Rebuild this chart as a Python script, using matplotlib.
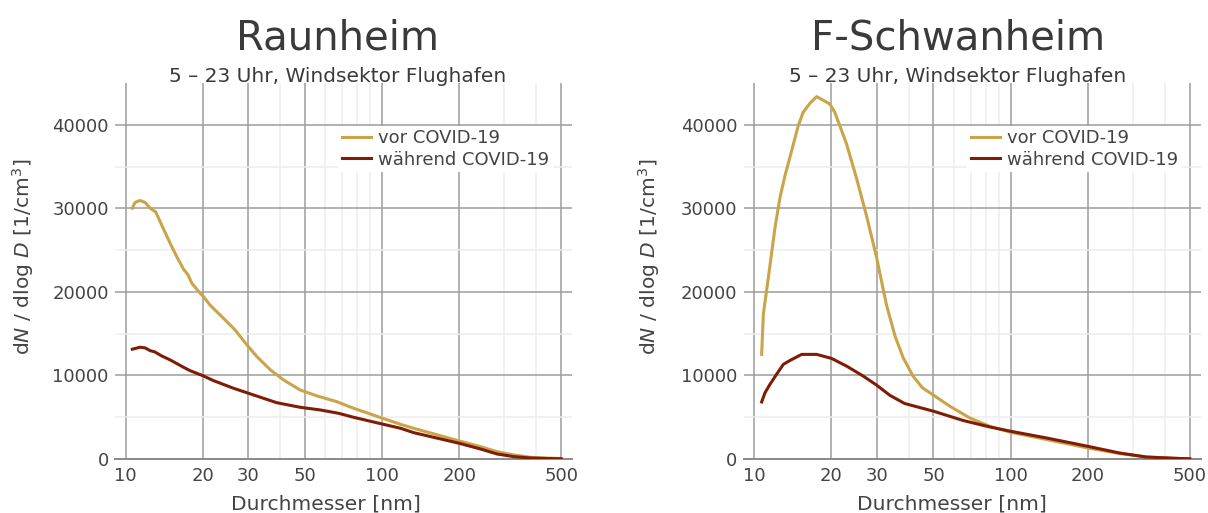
"""Partikelgrößenverteilung vor / während COVID-19, Raunheim und F-Schwanheim."""
import matplotlib
matplotlib.use("Agg")
import matplotlib.pyplot as plt
from matplotlib.ticker import NullFormatter

# --- Raunheim --------------------------------------------------------------
rau_vor_d = [10.61, 10.87, 11.37, 11.9, 12.45, 13.1, 13.8, 14.9, 15.8, 16.8,
             17.5, 18.1, 19.5, 20.1, 21.3, 24.8, 26.7, 29.7, 32.5, 36.7,
             41.3, 47.9, 55.7, 66.6, 77.5, 100, 118, 133, 200, 242,
             281, 327, 380, 440, 500]
rau_vor_n = [30020, 30700, 30940, 30700, 30020, 29550, 28020, 25830, 24230, 22720,
             22040, 21040, 19850, 19440, 18440, 16440, 15450, 13650, 12250, 10660,
             9460, 8260, 7550, 6860, 6070, 4900, 4150, 3670, 2160, 1480,
             880, 480, 200, 110, 60]
rau_waehr_d = [10.61, 11.37, 11.9, 12.45, 13.0, 13.8, 14.9, 16.8, 17.8, 20.1,
               22.0, 26.3, 30.1, 38.8, 47.9, 57.4, 67.7, 77.5, 100, 118,
               133, 200, 242, 281, 327, 380, 440, 500]
rau_waehr_n = [13140, 13380, 13300, 12970, 12810, 12340, 11860, 10980, 10580, 9940,
               9380, 8470, 7870, 6740, 6190, 5870, 5470, 4990, 4190, 3680,
               3150, 1880, 1200, 600, 280, 120, 60, 30]

# --- F-Schwanheim ----------------------------------------------------------
sch_vor_d = [10.68, 10.84, 11.34, 12.04, 12.59, 13.17, 13.98, 14.84, 15.5, 16.48,
             17.5, 19.7, 20.6, 22.9, 25.0, 27.4, 30.0, 32.8, 35.4, 38.1,
             41.6, 45.3, 50, 57.9, 69.2, 82.8, 100, 137.9, 200, 266,
             338, 456, 500]
sch_vor_n = [12520, 17310, 21700, 27700, 31300, 33900, 36900, 39900, 41490, 42570,
             43370, 42490, 41490, 37700, 33690, 29100, 24100, 18400, 14710, 12110,
             9920, 8510, 7640, 6320, 4920, 3920, 3200, 2330, 1320, 650,
             240, 60, 30]
sch_waehr_d = [10.68, 11.0, 11.5, 12.2, 12.97, 13.78, 15.3, 17.5, 20.0, 22.9,
               26.6, 30.0, 33.8, 38.6, 50, 65.4, 82.8, 100, 137.9, 200,
               266, 338, 456, 500]
sch_waehr_n = [6830, 7920, 8920, 10120, 11320, 11800, 12520, 12520, 12040, 11120,
               9920, 8840, 7620, 6640, 5720, 4600, 3840, 3320, 2520, 1520,
               720, 240, 60, 30]

x_major = [10, 20, 30, 50, 100, 200, 500]
x_minor = [40, 60, 70, 80, 90, 300, 400]
y_major = [0, 10000, 20000, 30000, 40000]
y_minor = [5000, 15000, 25000, 35000]

labels = ["vor COVID-19", "während COVID-19"]
subtitle = "5 – 23 Uhr, Windsektor Flughafen"

GOLD = "#C9A449"
DARKRED = "#7E1C06"
TEXT = "#444444"
W, H = 1208, 513


def draw_panel(ax, vor_d, vor_n, waehr_d, waehr_n):
    ax.plot(vor_d, vor_n, color=GOLD, lw=2.2, label=labels[0], zorder=3,
            solid_joinstyle="round")
    ax.plot(waehr_d, waehr_n, color=DARKRED, lw=2.2, label=labels[1], zorder=3,
            solid_joinstyle="round")
    ax.set_xscale("log")
    ax.set_xlim(9.08, 551)
    ax.set_ylim(0, 45000)
    ax.set_xticks(x_major)
    ax.set_xticklabels([str(v) for v in x_major])
    ax.set_xticks(x_minor, minor=True)
    ax.xaxis.set_minor_formatter(NullFormatter())
    ax.set_yticks(y_major)
    ax.set_yticklabels([str(v) for v in y_major])
    ax.set_yticks(y_minor, minor=True)
    ax.grid(which="major", color="#9c9c9c", lw=1.1, zorder=1)
    ax.grid(which="minor", color="#ededed", lw=1.1, zorder=0)
    for s in ["top", "right", "left"]:
        ax.spines[s].set_visible(False)
    ax.spines["bottom"].set_color("#8a8a8a")
    ax.spines["bottom"].set_linewidth(1.4)
    ax.tick_params(which="both", length=0, labelsize=13, colors=TEXT)
    ax.tick_params(axis="x", pad=6)
    ax.tick_params(axis="y", pad=4.5)
    leg = ax.legend(loc="upper left", bbox_to_anchor=(0.489, 0.886),
                    borderaxespad=0, borderpad=0.2, handlelength=1.6,
                    handletextpad=0.4, labelspacing=0.18, fontsize=13,
                    frameon=True, fancybox=False, framealpha=1,
                    facecolor="white", edgecolor="none")
    for t in leg.get_texts():
        t.set_color(TEXT)
    leg.set_zorder(5)


def main():
    fig = plt.figure(figsize=(W / 100, H / 100), dpi=100)
    ax_l = fig.add_axes([115 / W, 54 / H, 457 / W, 376 / H])
    ax_r = fig.add_axes([743.6 / W, 54 / H, 457 / W, 376 / H])
    draw_panel(ax_l, rau_vor_d, rau_vor_n, rau_waehr_d, rau_waehr_n)
    draw_panel(ax_r, sch_vor_d, sch_vor_n, sch_waehr_d, sch_waehr_n)

    ylabel = r"d$N$ / dlog $D$ [1/cm$^3$]"
    for title, cx, lx, yx in [("Raunheim", 338, 326, 23),
                              ("F-Schwanheim", 958, 952, 649)]:
        fig.text(cx / W, 1 - 50 / H, title, ha="center", va="baseline",
                 fontsize=29, color="#3a3a3a")
        fig.text(cx / W, 1 - 82 / H, subtitle, ha="center", va="baseline",
                 fontsize=14.5, color="#3a3a3a")
        fig.text(lx / W, 1 - 509 / H, "Durchmesser [nm]", ha="center",
                 va="baseline", fontsize=14.6, color=TEXT)
        fig.text(yx / W, 1 - 257 / H, ylabel, ha="center", va="center",
                 rotation=90, fontsize=14.6, color=TEXT)

    fig.savefig("out.png", dpi=100)


if __name__ == "__main__":
    main()
